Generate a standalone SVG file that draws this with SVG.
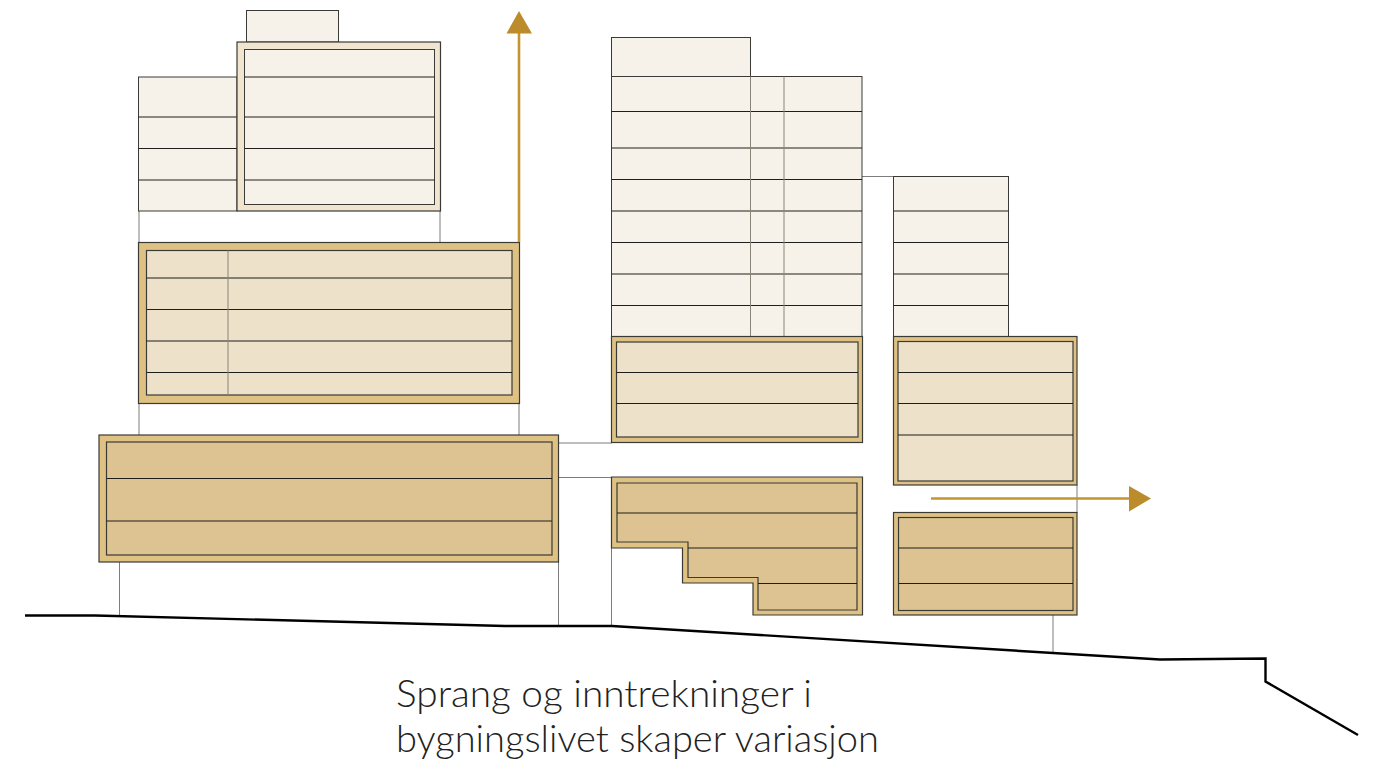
<svg xmlns="http://www.w3.org/2000/svg" width="1377" height="769" viewBox="0 0 1377 769">
<style>
.l{fill:#f7f2e9;stroke:#3a3a36;stroke-width:1}
.m{fill:#ede1ca;stroke:#3a3a36;stroke-width:1.2}
.d{fill:#dcc391;stroke:#3a3a36;stroke-width:1.2}
.fg{fill:#dfc183;stroke:#3a3a36;stroke-width:1.2}
.fp{fill:#f1e5cf;stroke:#3a3a36;stroke-width:1.2}
.f{stroke:#1e1e1c;stroke-width:1.1;fill:none}
.v{stroke:#8a8578;stroke-width:1;fill:none}
.c{stroke:#7d7d7d;stroke-width:1;fill:none}
.g{fill:none;stroke:#000;stroke-width:2.4}
.a{stroke:#c4942f;stroke-width:2.6;fill:none}
.h{fill:#bc8c2c}
text{font-family:Lato,"Open Sans","Liberation Sans",sans-serif;font-weight:300;font-size:38px;fill:#222}
</style>
<g id="connectors">
<path class="c" d="M139 211V243M440 211V243M139 403V435M519 403V435M119.500 562V615M558.500 562V626M558 443H612M558 477.500H612M611.500 548V626M862 176.500H894M1077 485V513M1053 615V652"/>
</g>
<g id="ground"><path class="g" d="M25 615.500H95L505 626H612L1160 659.500L1265.500 658.500V681.500L1358 735"/></g>
<g id="upper-left-roof"><rect class="l" x="246.500" y="10.500" width="92" height="31.500"/></g>
<g id="upper-left-wing"><rect class="l" x="138.500" y="77" width="98.500" height="134"/><path class="f" d="M138.500 117H237M138.500 148.500H237M138.500 180H237"/></g>
<g id="upper-left-block"><rect class="fp" x="237" y="42" width="203.500" height="169"/><rect class="l" x="244.500" y="49.500" width="190" height="155"/><path class="f" d="M244.500 77H434.500M244.500 117H434.500M244.500 148.500H434.500M244.500 180H434.500"/></g>
<g id="middle-left-block"><rect class="fg" x="138.500" y="242.500" width="381" height="161"/><rect class="m" x="146.500" y="250.500" width="365.500" height="144.500"/><path class="f" d="M146.500 278H512M146.500 309.500H512M146.500 341H512M146.500 372.500H512"/><path class="v" d="M228 250.500V395"/></g>
<g id="lower-left-block"><rect class="fg" x="99" y="435" width="459.500" height="127"/><rect class="d" x="106.500" y="442" width="445.500" height="113"/><path class="f" d="M106.500 478.500H552M106.500 521H552"/></g>
<g id="tower-roof"><rect class="l" x="611.500" y="37.500" width="139" height="39"/></g>
<g id="tower"><rect class="l" x="611.500" y="76.500" width="250.500" height="260"/><path class="f" d="M611.500 111.500H862M611.500 148H862M611.500 179.500H862M611.500 211H862M611.500 242.500H862M611.500 274H862M611.500 305.500H862"/><path class="v" d="M750.500 76.500V336.500M784 76.500V336.500"/></g>
<g id="right-tower"><rect class="l" x="893.500" y="176.500" width="115" height="160"/><path class="f" d="M893.500 211H1008.500M893.500 242.500H1008.500M893.500 274H1008.500M893.500 305.500H1008.500"/></g>
<g id="middle-block"><rect class="fg" x="611.500" y="336.500" width="251" height="106"/><rect class="m" x="616.500" y="342" width="241.500" height="95"/><path class="f" d="M616.500 372.500H858M616.500 403.500H858"/></g>
<g id="right-block"><rect class="fg" x="893.500" y="336.500" width="183.500" height="148.500"/><rect class="m" x="898" y="341.500" width="175" height="139.500"/><path class="f" d="M898 372.500H1073M898 403.500H1073M898 435H1073"/></g>
<g id="stepped-block"><path class="fg" d="M611.500 477H862.500V615H753V583H682.500V548H611.500Z"/><path class="d" d="M617 483H857V610H758V577.500H688V542H617Z"/><path class="f" d="M617 513H857M688 548H857M758 583.500H857"/></g>
<g id="right-lower-block"><rect class="fg" x="893.500" y="512.500" width="183.500" height="102.500"/><rect class="d" x="898.500" y="517.500" width="174.500" height="93"/><path class="f" d="M898.500 548H1073M898.500 583.500H1073"/></g>
<g id="arrows">
<path class="a" d="M519 242V30"/><path class="h" d="M519 11L532 33.500H506.500Z"/>
<path class="a" d="M931 498.500H1132"/><path class="h" d="M1129 486L1151 498.500L1129 511.500Z"/>
</g>
<g id="caption">
<text x="396" y="707" textLength="416" lengthAdjust="spacingAndGlyphs">Sprang og inntrekninger i</text>
<text x="396" y="752" textLength="483" lengthAdjust="spacingAndGlyphs">bygningslivet skaper variasjon</text>
</g>
</svg>
